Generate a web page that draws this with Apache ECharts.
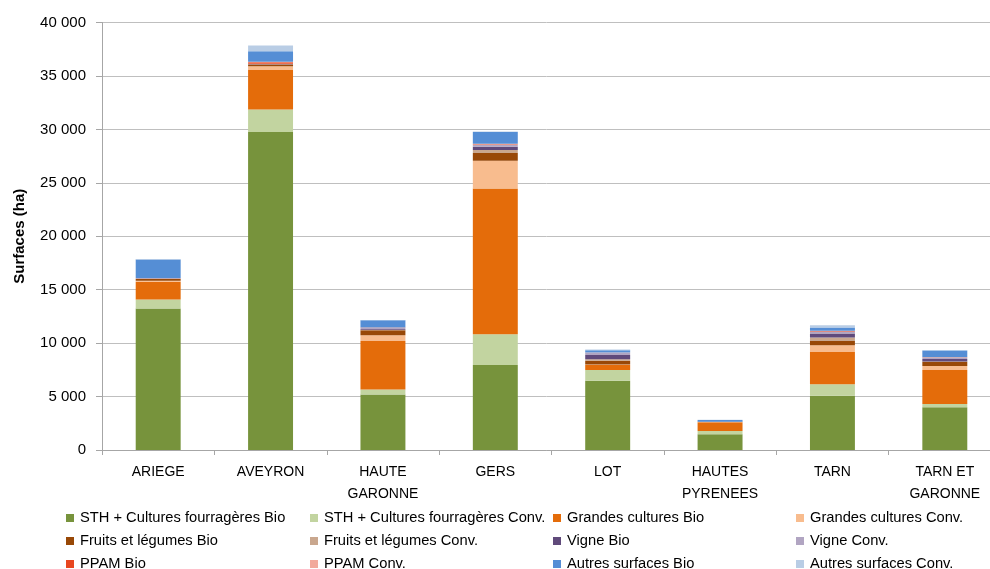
<!DOCTYPE html>
<html><head><meta charset="utf-8">
<script src="https://cdn.jsdelivr.net/npm/echarts@6/dist/echarts.min.js"></script>
<style>html,body{margin:0;padding:0;background:#fff}#c{width:990px;height:569px}</style>
</head><body><div id="c"></div>
<script>
const categories = ['ARIEGE','AVEYRON','HAUTE\nGARONNE','GERS','LOT','HAUTES\nPYRENEES','TARN','TARN ET\nGARONNE'];
const seriesNames = ['STH + Cultures fourragères Bio','STH + Cultures fourragères Conv.','Grandes cultures Bio','Grandes cultures Conv.','Fruits et légumes Bio','Fruits et légumes Conv.','Vigne Bio','Vigne Conv.','PPAM Bio','PPAM Conv.','Autres surfaces Bio','Autres surfaces Conv.'];
const sthBio    = [13250, 29750, 5200, 7950, 6480, 1470, 5070, 3990];
const sthConv   = [840, 2100, 470, 2870, 1000, 310, 1090, 310];
const gcBio     = [1650, 3700, 4540, 13650, 470, 810, 3020, 3180];
const gcConv    = [100, 350, 530, 2590, 60, 30, 620, 370];
const flBio     = [150, 160, 470, 720, 340, 20, 400, 400];
const flConv    = [30, 40, 30, 280, 130, 10, 320, 40];
const vigneBio  = [10, 20, 80, 310, 400, 0, 370, 220];
const vigneConv = [10, 20, 100, 190, 210, 0, 200, 100];
const ppamBio   = [20, 150, 20, 40, 20, 0, 40, 30];
const ppamConv  = [10, 30, 20, 60, 20, 0, 20, 30];
const autresBio = [1750, 1000, 680, 1100, 200, 150, 320, 630];
const autresConv= [40, 530, 30, 40, 80, 20, 210, 40];
const yTicks = [0,5000,10000,15000,20000,25000,30000,35000,40000];

const allData = [sthBio, sthConv, gcBio, gcConv, flBio, flConv, vigneBio, vigneConv, ppamBio, ppamConv, autresBio, autresConv];
const colors = ['#77933C','#C2D4A0','#E46C0A','#F8BC8E','#984807','#C9A78E','#604A7B','#B1A5C2','#E8461F','#F2AA9C','#558ED5','#B9CDE5'];

const font = '"Liberation Sans", Arial, sans-serif';
const series = seriesNames.map((n,i)=>({
  name:n, type:'bar', stack:'s', data:allData[i], barWidth:'40%',
  itemStyle:{color:colors[i]}, emphasis:{disabled:true}
}));

const colLeft = [66, 310, 553, 796];
const rowTop = [510.5, 533.5, 556.5];
const legends = seriesNames.map((n,i)=>{
  const r = Math.floor(i/4), k = i%4;
  return {
    orient:'horizontal', left:colLeft[k], top:rowTop[r],
    itemWidth:8, itemHeight:8, icon:'rect', itemGap:0, padding:0,
    textStyle:{fontFamily:font, fontSize:14.7, color:'#000', padding:[0,0,0,1]},
    data:[n], selectedMode:false
  };
});

const chart = echarts.init(document.getElementById('c'));
chart.setOption({
  animation:false,
  color:colors,
  grid:{left:102, top:22.5, width:899, height:427.5, containLabel:false, outerBoundsMode:'none'},
  legend:legends,
  xAxis:{type:'category', data:categories,
    axisLine:{lineStyle:{color:'#A6A6A6'}},
    axisTick:{show:true, alignWithLabel:false, length:5, lineStyle:{color:'#A6A6A6'}},
    axisLabel:{fontFamily:font, fontSize:14, color:'#000', margin:11, lineHeight:22, interval:0}
  },
  yAxis:{type:'value', min:0, max:40000, interval:5000,
    name:'Surfaces (ha)', nameLocation:'middle', nameGap:75, nameRotate:90,
    nameTextStyle:{fontFamily:font, fontSize:15, fontWeight:'bold', color:'#000'},
    axisLine:{show:true, lineStyle:{color:'#A6A6A6'}},
    axisTick:{show:true, inside:false, length:6, lineStyle:{color:'#A6A6A6'}},
    splitLine:{lineStyle:{color:'#BFBFBF'}},
    axisLabel:{fontFamily:font, fontSize:15, color:'#000', margin:16,
      formatter:v=>String(v).replace(/\B(?=(\d{3})+(?!\d))/g,' ')}
  },
  series:series
});
</script></body></html>
